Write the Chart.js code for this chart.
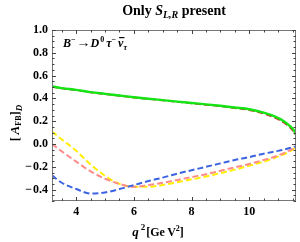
<!DOCTYPE html>
<html><head><meta charset="utf-8">
<script src="https://cdn.jsdelivr.net/npm/chart.js@4/dist/chart.umd.min.js"></script>
<style>html,body{margin:0;padding:0;background:#fff}#wrap{width:300px;height:242px}</style>
</head><body><div id="wrap"><canvas id="c" width="300" height="242"></canvas></div>
<script>
const q2 = [3.16, 3.5, 4, 4.5, 5, 5.5, 6, 6.5, 7, 7.5, 8, 8.5, 9, 9.5, 10, 10.5, 10.9, 11.2, 11.4, 11.55, 11.62];
const greenSolid   = [0.505, 0.49, 0.475, 0.455, 0.44, 0.425, 0.41, 0.397, 0.385, 0.372, 0.36, 0.348, 0.335, 0.32, 0.305, 0.275, 0.24, 0.2, 0.16, 0.12, 0.08];
const redDashed    = [0.503, 0.488, 0.473, 0.453, 0.438, 0.423, 0.408, 0.395, 0.383, 0.37, 0.357, 0.344, 0.331, 0.315, 0.298, 0.266, 0.229, 0.188, 0.148, 0.108, 0.076];
const yellowDashed = [0.11, 0.04, -0.06, -0.18, -0.28, -0.35, -0.375, -0.375, -0.36, -0.335, -0.31, -0.285, -0.255, -0.225, -0.19, -0.155, -0.12, -0.09, -0.065, -0.04, -0.02];
const pinkDashed   = [0.0, -0.065, -0.155, -0.24, -0.305, -0.35, -0.375, -0.36, -0.34, -0.315, -0.29, -0.265, -0.235, -0.205, -0.175, -0.14, -0.11, -0.08, -0.055, -0.035, -0.02];
const blueDashed   = [-0.275, -0.34, -0.395, -0.435, -0.425, -0.395, -0.36, -0.325, -0.295, -0.26, -0.23, -0.2, -0.17, -0.14, -0.115, -0.085, -0.065, -0.05, -0.035, -0.025, -0.02];
const xTicks = [4, 6, 8, 10];
const xTickLabels = ['4', '6', '8', '10'];
const yTicks = [-0.4, -0.2, 0, 0.2, 0.4, 0.6, 0.8, 1.0];
const yTickLabels = ['\u2212\u200A0.4', '\u2212\u200A0.2', '0.0', '0.2', '0.4', '0.6', '0.8', '1.0'];
const xMinorStep = 0.5, yMinorStep = 0.05;

const SERIF = '"Liberation Serif","DejaVu Serif",serif';
function pts(ys){ return q2.map((x,i)=>({x:x, y:ys[i]})); }
function ds(ys, color, width, dash){
  return {data: pts(ys), borderColor: color, borderWidth: width, borderDash: dash,
    pointRadius: 0, fill: false, cubicInterpolationMode: 'monotone'};
}

function drawRuns(ctx, runs, x, y, align){
  let w = 0;
  runs.forEach(r=>{ ctx.font = r.font; r.w = ctx.measureText(r.t).width + (r.sp||0); w += r.w; });
  let cx = align === 'center' ? x - w/2 : x;
  ctx.textAlign = 'left'; ctx.textBaseline = 'alphabetic';
  runs.forEach(r=>{
    ctx.font = r.font;
    ctx.fillText(r.t, cx, y + (r.dy||0));
    if (r.over){
      const ww = ctx.measureText(r.t).width;
      ctx.fillRect(cx + 1, y + (r.dy||0) - r.over, ww, 1.2);
    }
    cx += r.w;
  });
}

const decor = {
  id: 'decor',
  afterDraw(chart){
    const ctx = chart.ctx, a = chart.chartArea, xs = chart.scales.x, ys = chart.scales.y;
    ctx.save();
    ctx.strokeStyle = '#777'; ctx.lineWidth = 1;
    ctx.strokeRect(a.left + 0.5, a.top + 0.5, a.right - a.left - 1, a.bottom - a.top - 1);
    ctx.strokeStyle = '#444';
    ctx.beginPath();
    for (let v = Math.ceil(xs.min / xMinorStep) * xMinorStep; v <= xs.max + 1e-9; v += xMinorStep){
      const px = Math.round(xs.getPixelForValue(v)) + 0.5;
      const major = xTicks.some(t => Math.abs(t - v) < 1e-6);
      const L = major ? 4 : 2.5;
      ctx.moveTo(px, a.bottom); ctx.lineTo(px, a.bottom - L);
      ctx.moveTo(px, a.top); ctx.lineTo(px, a.top + L);
    }
    for (let v = Math.ceil(ys.min / yMinorStep) * yMinorStep; v <= ys.max + 1e-9; v += yMinorStep){
      const py = Math.round(ys.getPixelForValue(v)) + 0.5;
      const major = yTicks.some(t => Math.abs(t - v) < 1e-6);
      const L = major ? 4 : 2.5;
      ctx.moveTo(a.left, py); ctx.lineTo(a.left + L, py);
      ctx.moveTo(a.right, py); ctx.lineTo(a.right - L, py);
    }
    ctx.stroke();
    ctx.fillStyle = '#000';
    drawRuns(ctx, [
      {t:'Only ', font:'bold 14px ' + SERIF},
      {t:'S', font:'italic bold 14px ' + SERIF},
      {t:'L,R', font:'italic bold 10px ' + SERIF, dy:3},
      {t:' present', font:'bold 14px ' + SERIF}
    ], (a.left + a.right)/2, 15, 'center');
    drawRuns(ctx, [
      {t:'B', font:'italic bold 12px ' + SERIF},
      {t:'\u2212', font:'bold 8px ' + SERIF, dy:-5, sp:1},
      {t:'\u2192', font:'bold 14px ' + SERIF},
      {t:'D', font:'italic bold 12px ' + SERIF, sp:1},
      {t:'0', font:'bold 8px ' + SERIF, dy:-5, sp:2},
      {t:'\u03C4', font:'italic bold 12px ' + SERIF},
      {t:'\u2212', font:'bold 8px ' + SERIF, dy:-5, sp:2},
      {t:'\u03BD', font:'italic bold 12px ' + SERIF, over:10},
      {t:'\u03C4', font:'italic bold 8px ' + SERIF, dy:3}
    ], 63, 47, 'left');
    drawRuns(ctx, [
      {t:'q', font:'italic bold 13px ' + SERIF, sp:2},
      {t:'2', font:'bold 9px ' + SERIF, dy:-6, sp:1},
      {t:'[Ge\u2009V', font:'bold 12px ' + SERIF},
      {t:'2', font:'bold 8px ' + SERIF, dy:-5},
      {t:']', font:'bold 12px ' + SERIF}
    ], 158, 236, 'center');
    ctx.translate(19, 123); ctx.rotate(-Math.PI/2);
    drawRuns(ctx, [
      {t:'[\u2009', font:'bold 13px ' + SERIF},
      {t:'A', font:'italic bold 13px ' + SERIF},
      {t:'FB', font:'bold 8px ' + SERIF, dy:2},
      {t:']', font:'bold 13px ' + SERIF},
      {t:'D', font:'italic bold 9px ' + SERIF, dy:3}
    ], 0, 0, 'center');
    ctx.restore();
  }
};

new Chart(document.getElementById('c'), {
  type: 'line',
  data: { datasets: [
    ds(greenSolid, 'rgb(20,228,20)', 2.4, []),
    ds(redDashed, 'rgb(205,40,40)', 1.8, [6,3]),
    ds(blueDashed, 'rgb(60,100,225)', 2, [6,3]),
    ds(pinkDashed, 'rgb(255,140,140)', 2, [6,3]),
    ds(yellowDashed, 'rgb(255,238,0)', 2, [6,3])
  ]},
  options: {
    responsive: false, animation: false, devicePixelRatio: 1,
    layout: { padding: { left: 0, top: 30, right: 4, bottom: 0 } },
    plugins: { legend: { display: false }, tooltip: { enabled: false } },
    scales: {
      x: { type: 'linear', min: 3.16, max: 11.62,
        afterBuildTicks: s => { s.ticks = xTicks.map(v => ({value: v})); },
        afterFit: s => { s.height = 41; },
        grid: { display: false, drawTicks: false }, border: { display: false },
        ticks: { padding: 4, color: '#000', font: { family: SERIF, size: 12, weight: 'bold' },
          callback: (v) => xTickLabels[xTicks.indexOf(v)] ?? '' , maxRotation: 0, autoSkip: false } },
      y: { type: 'linear', min: -0.5, max: 1.0,
        afterBuildTicks: s => { s.ticks = yTicks.map(v => ({value: v})); },
        afterFit: s => { s.width = 52; },
        grid: { display: false, drawTicks: false }, border: { display: false },
        ticks: { padding: 4, color: '#000', font: { family: SERIF, size: 12, weight: 'bold' },
          callback: (v) => { const i = yTicks.findIndex(t => Math.abs(t - v) < 1e-6); return i >= 0 ? yTickLabels[i] : ''; },
          autoSkip: false } }
    }
  },
  plugins: [decor]
});
</script></body></html>
